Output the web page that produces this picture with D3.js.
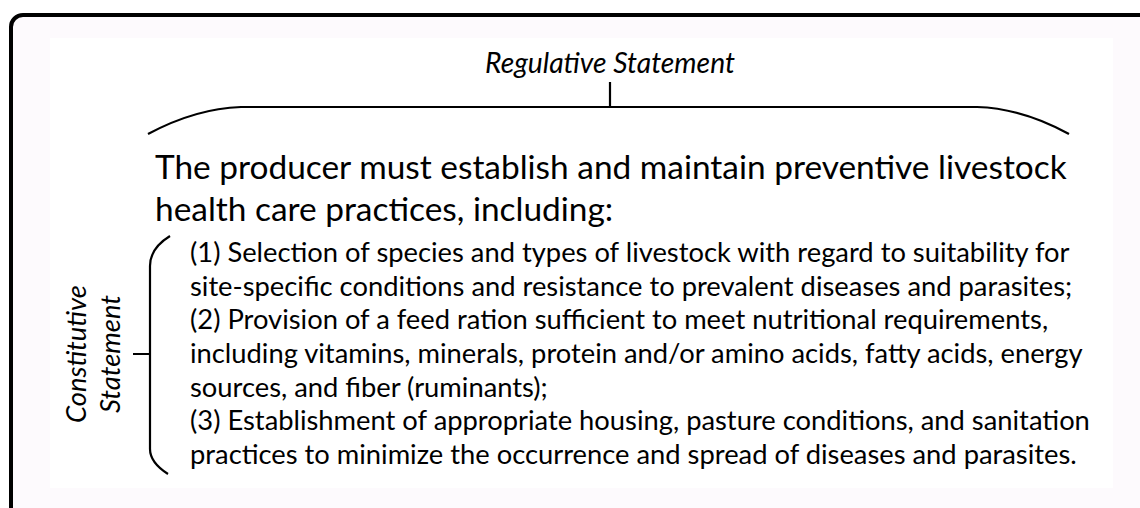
<!DOCTYPE html>
<html>
<head>
<meta charset="utf-8">
<script src="https://cdn.jsdelivr.net/npm/d3@7/dist/d3.min.js"></script>
<style>
  html, body { margin: 0; padding: 0; background: #fff; }
  text { font-family: Lato, "Open Sans", sans-serif; fill: #000; }
</style>
</head>
<body>
<svg id="chart" width="1140" height="508"></svg>
<script>
// text content of the diagram
var topLabel = "Regulative Statement"
var sideLabel = ["Constitutive", "Statement"]
var mainLines = [
	"The producer must establish and maintain preventive livestock",
	"health care practices, including:"
]
var itemLines = [
	"(1) Selection of species and types of livestock with regard to suitability for",
	"site-specific conditions and resistance to prevalent diseases and parasites;",
	"(2) Provision of a feed ration sufficient to meet nutritional requirements,",
	"including vitamins, minerals, protein and/or amino acids, fatty acids, energy",
	"sources, and fiber (ruminants);",
	"(3) Establishment of appropriate housing, pasture conditions, and sanitation",
	"practices to minimize the occurrence and spread of diseases and parasites."
]

var svg = d3.select("#chart")

// line positions
var mainY = d3.scaleLinear().domain([0, mainLines.length - 1]).range([179, 221])
var itemY = d3.scaleLinear().domain([0, itemLines.length - 1]).range([262, 464])

// size a block of text so that one reference line spans the wanted width
function fit(sel, refIndex, width, startSize) {
	sel.style("font-size", startSize + "px")
	var w = sel.nodes()[refIndex].getComputedTextLength()
	sel.style("font-size", (startSize * width / w) + "px")
}

// outer frame (runs off the right and bottom edge)
svg.append("rect")
	.attr("x", 11).attr("y", 15)
	.attr("width", 1300).attr("height", 700)
	.attr("rx", 12).attr("ry", 12)
	.attr("fill", "#fdfafd")
	.attr("stroke", "#000")
	.attr("stroke-width", 4)
svg.append("rect")
	.attr("x", 50).attr("y", 38)
	.attr("width", 1063).attr("height", 450)
	.attr("fill", "#fff")

// top brace
var brace = d3.path()
brace.moveTo(148, 134)
brace.bezierCurveTo(178, 118, 208, 108, 241, 107)
brace.lineTo(977, 107)
brace.bezierCurveTo(1010, 108, 1040, 118, 1069, 134)
brace.moveTo(610, 107)
brace.lineTo(610, 82)
svg.append("path")
	.attr("d", brace.toString())
	.attr("fill", "none")
	.attr("stroke", "#000")
	.attr("stroke-width", 2.2)

var topText = svg.append("text")
	.attr("x", 610).attr("y", 73)
	.attr("text-anchor", "middle")
	.style("font-style", "italic")
	.text(topLabel)
fit(topText, 0, 250, 24)

// left bracket
var side = d3.path()
side.moveTo(170, 236)
side.bezierCurveTo(157, 244, 150, 254, 150, 266)
side.lineTo(150, 449)
side.bezierCurveTo(150, 459, 157, 467, 168, 474)
side.moveTo(150, 354)
side.lineTo(133, 354)
svg.append("path")
	.attr("d", side.toString())
	.attr("fill", "none")
	.attr("stroke", "#000")
	.attr("stroke-width", 2.2)

var sideX = [86, 120]
var sideText = svg.selectAll("text.side")
	.data(sideLabel)
	.enter().append("text")
	.attr("class", "side")
	.attr("transform", function(d, i) { return "translate(" + sideX[i] + ",354) rotate(-90)" })
	.attr("text-anchor", "middle")
	.style("font-style", "italic")
	.text(function(d) { return d })
fit(sideText, 0, 138, 24)

// main statement
var main = svg.selectAll("text.main")
	.data(mainLines)
	.enter().append("text")
	.attr("class", "main")
	.attr("x", 155)
	.attr("y", function(d, i) { return mainY(i) })
	.text(function(d) { return d })
fit(main, 0, 912, 30)

// listed practices
var items = svg.selectAll("text.item")
	.data(itemLines)
	.enter().append("text")
	.attr("class", "item")
	.attr("x", 190)
	.attr("y", function(d, i) { return itemY(i) })
	.text(function(d) { return d })
fit(items, 5, 900, 24)
</script>
</body>
</html>
